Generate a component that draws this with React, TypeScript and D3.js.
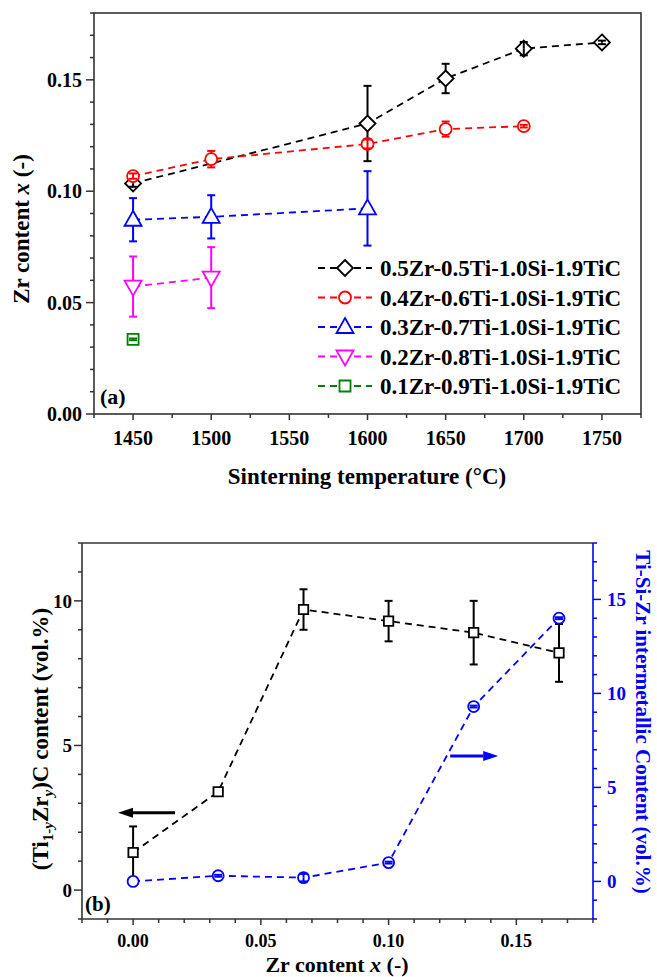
import React from 'react';
import * as d3 from 'd3';

const W = 657;
const H = 977;
const FONT = '"Liberation Serif", "Times New Roman", serif';

// ---- panel (a): Zr content vs sintering temperature ----
const tempTicks = [1450, 1500, 1550, 1600, 1650, 1700, 1750];
const zrTicksA = [0, 0.05, 0.1, 0.15];

const zr05Temp = [1450, 1600, 1650, 1700, 1750];
const zr05Val = [0.1035, 0.1304, 0.1506, 0.164, 0.1668];
const zr05Err = [0.0015, 0.0169, 0.0066, 0.003, 0.0008];

const zr04Temp = [1450, 1500, 1600, 1650, 1700];
const zr04Val = [0.1068, 0.1144, 0.1212, 0.1279, 0.1292];
const zr04Err = [0.0012, 0.0037, 0.002, 0.0034, 0.0006];

const zr03Temp = [1450, 1500, 1600];
const zr03Val = [0.0872, 0.0885, 0.0923];
const zr03Err = [0.0097, 0.0097, 0.0167];

const zr02Temp = [1450, 1500];
const zr02Val = [0.0572, 0.0612];
const zr02Err = [0.0135, 0.0137];

const zr01Temp = [1450];
const zr01Val = [0.0335];
const zr01Err = [0.0004];

const legendNames = [
  '0.5Zr-0.5Ti-1.0Si-1.9TiC',
  '0.4Zr-0.6Ti-1.0Si-1.9TiC',
  '0.3Zr-0.7Ti-1.0Si-1.9TiC',
  '0.2Zr-0.8Ti-1.0Si-1.9TiC',
  '0.1Zr-0.9Ti-1.0Si-1.9TiC',
];

// ---- panel (b): phase content vs Zr content ----
const zrX = [0, 0.0333, 0.0667, 0.1, 0.1333, 0.1667];
const zrTicksB = [0, 0.05, 0.1, 0.15];
const carbideVal = [1.3, 3.4, 9.7, 9.3, 8.9, 8.2];
const carbideErr = [0.9, 0, 0.7, 0.7, 1.1, 1.0];
const interVal = [0, 0.3, 0.2, 1.0, 9.3, 14.0];
const interErr = [0, 0.05, 0.2, 0.05, 0.05, 0.05];
const leftTicksB = [0, 5, 10];
const rightTicksB = [0, 5, 10, 15];

type Shape = 'diamond' | 'circle' | 'triUp' | 'triDown' | 'square' | 'smallSquare' | 'smallCircle';

const seriesA = [
  { t: zr05Temp, v: zr05Val, e: zr05Err, color: '#000000', shape: 'diamond' as Shape },
  { t: zr04Temp, v: zr04Val, e: zr04Err, color: '#ff0000', shape: 'circle' as Shape },
  { t: zr03Temp, v: zr03Val, e: zr03Err, color: '#0000ff', shape: 'triUp' as Shape },
  { t: zr02Temp, v: zr02Val, e: zr02Err, color: '#ff00ff', shape: 'triDown' as Shape },
  { t: zr01Temp, v: zr01Val, e: zr01Err, color: '#008000', shape: 'square' as Shape },
];

const circ = (r: number) => `M${-r},0A${r},${r} 0 1,0 ${r},0A${r},${r} 0 1,0 ${-r},0Z`;

const shapes: Record<Shape, { d: string; gt: number; gb: number }> = {
  diamond: { d: 'M0,-8L8,0L0,8L-8,0Z', gt: 8, gb: 8 },
  circle: { d: circ(6), gt: 6, gb: 6 },
  triUp: { d: 'M0,-9L8.5,6L-8.5,6Z', gt: 9, gb: 6 },
  triDown: { d: 'M0,9L8.5,-6L-8.5,-6Z', gt: 6, gb: 9 },
  square: { d: 'M-5.5,-5.5H5.5V5.5H-5.5Z', gt: 5.5, gb: 5.5 },
  smallSquare: { d: 'M-4.7,-4.7H4.7V4.7H-4.7Z', gt: 4.7, gb: 4.7 },
  smallCircle: { d: circ(5.5), gt: 5.5, gb: 5.5 },
};

const Marker = ({ x, y, shape, color }: { x: number; y: number; shape: Shape; color: string }) => (
  <path d={shapes[shape].d} transform={`translate(${x},${y})`} fill="#fff" stroke={color} strokeWidth={1.8} />
);

const ErrBar = ({ x, y, yt, yb, shape, color }: any) => {
  const { gt, gb } = shapes[shape];
  if (yb - yt < 0.5) return null;
  const topEnd = y - yt > gt ? y - gt : y;
  const botEnd = yb - y > gb ? y + gb : y;
  return (
    <g stroke={color} strokeWidth={2} fill="none">
      <line x1={x} x2={x} y1={yt} y2={topEnd} />
      <line x1={x} x2={x} y1={botEnd} y2={yb} />
      <line x1={x - 4} x2={x + 4} y1={yt} y2={yt} />
      <line x1={x - 4} x2={x + 4} y1={yb} y2={yb} />
    </g>
  );
};

// scales
const xA = d3.scaleLinear().domain([1425, 1775]).range([94, 641]);
const yA = d3.scaleLinear().domain([0, 0.18]).range([414, 13]);

const xB = d3.scaleLinear().domain([-0.02, 0.18]).range([82, 593]);
const yL = d3.scaleLinear().domain([-1, 12]).range([919, 543]);
const yR = d3.scaleLinear().domain([-2, 18]).range([919, 543]);

const DASH = '7,5';

const PanelA = () => {
  const line = d3.line<[number, number]>().x(d => xA(d[0])).y(d => yA(d[1]));
  const xMinor = d3.range(1425, 1776, 25);
  const yMinor = d3.range(0, 0.1801, 0.01);
  const [L, R] = xA.range();
  const [B, T] = yA.range();
  return (
    <g>
      {/* frame */}
      <rect x={L} y={T} width={R - L} height={B - T} fill="none" stroke="#333" strokeWidth={1.6} />
      {/* x ticks */}
      {xMinor.map(v => (
        <line key={'xm' + v} x1={xA(v)} x2={xA(v)} y1={B} y2={B + (tempTicks.includes(v) ? 6 : 4)} stroke="#333" strokeWidth={1.5} />
      ))}
      {tempTicks.map(v => (
        <text key={'xl' + v} x={xA(v)} y={445} textAnchor="middle" fontSize={20} fontWeight="bold" fontFamily={FONT}>{v}</text>
      ))}
      {/* y ticks */}
      {yMinor.map((v, i) => (
        <line key={'ym' + i} x1={L} x2={L - (i % 5 === 0 ? 8 : 4)} y1={yA(v)} y2={yA(v)} stroke="#333" strokeWidth={1.5} />
      ))}
      {zrTicksA.map(v => (
        <text key={'yl' + v} x={82} y={yA(v) + 7} textAnchor="end" fontSize={20} fontWeight="bold" fontFamily={FONT}>{v.toFixed(2)}</text>
      ))}
      {/* axis titles */}
      <text x={367} y={484} textAnchor="middle" fontSize={23} fontWeight="bold" fontFamily={FONT}>
        Sinterning temperature (°C)
      </text>
      <text transform="translate(29,229) rotate(-90)" textAnchor="middle" fontSize={23} fontWeight="bold" fontFamily={FONT}>
        Zr content <tspan fontStyle="italic">x</tspan> (-)
      </text>
      <text x={100} y={404} fontSize={22} fontWeight="bold" fontFamily={FONT}>(a)</text>

      {/* series */}
      {seriesA.map((s, si) => {
        const pts = s.t.map((t, i) => [t, s.v[i]] as [number, number]);
        return (
          <g key={'s' + si}>
            {pts.length > 1 && (
              <path d={line(pts) || ''} fill="none" stroke={s.color} strokeWidth={1.8} strokeDasharray={DASH} />
            )}
            {pts.map((p, i) => (
              <g key={i}>
                <Marker x={xA(p[0])} y={yA(p[1])} shape={s.shape} color={s.color} />
                <ErrBar x={xA(p[0])} y={yA(p[1])} yt={yA(p[1] + s.e[i])} yb={yA(p[1] - s.e[i])} shape={s.shape} color={s.color} />
              </g>
            ))}
          </g>
        );
      })}

      {/* legend */}
      {seriesA.map((s, i) => {
        const ly = 268 + i * 29.5;
        return (
          <g key={'lg' + i}>
            <line x1={318} x2={372} y1={ly} y2={ly} stroke={s.color} strokeWidth={1.8} strokeDasharray={DASH} />
            <Marker x={345} y={ly} shape={s.shape} color={s.color} />
            <text x={380} y={ly + 8} fontSize={23} fontWeight="bold" fontFamily={FONT}>{legendNames[i]}</text>
          </g>
        );
      })}
    </g>
  );
};

const Arrow = ({ x1, x2, y, color }: { x1: number; x2: number; y: number; color: string }) => {
  const dir = Math.sign(x2 - x1);
  const head = 15;
  return (
    <g>
      <line x1={x1} x2={x2 - dir * head} y1={y} y2={y} stroke={color} strokeWidth={3} />
      <path d={`M${x2},${y}L${x2 - dir * head},${y - 5}L${x2 - dir * head},${y + 5}Z`} fill={color} />
    </g>
  );
};

const PanelB = () => {
  const line = d3.line<[number, number]>().x(d => d[0]).y(d => d[1]);
  const [L, R] = xB.range();
  const [B, T] = yL.range();
  const xMinor = d3.range(-0.02, 0.1801, 0.01);
  const lMinor = d3.range(-1, 12.01, 1);
  const rMinor = d3.range(-2, 18.01, 1);
  const blue = '#0000ff';
  const carbPts = zrX.map((x, i) => [xB(x), yL(carbideVal[i])] as [number, number]);
  const interPts = zrX.map((x, i) => [xB(x), yR(interVal[i])] as [number, number]);
  return (
    <g>
      {/* frame */}
      <line x1={L} x2={R} y1={T} y2={T} stroke="#333" strokeWidth={1.6} />
      <line x1={L} x2={R} y1={B} y2={B} stroke="#333" strokeWidth={1.6} />
      <line x1={L} x2={L} y1={T} y2={B} stroke="#333" strokeWidth={1.6} />
      <line x1={R} x2={R} y1={T} y2={B} stroke={blue} strokeWidth={1.6} />
      {/* x ticks */}
      {xMinor.map((v, i) => (
        <line key={'xm' + i} x1={xB(v)} x2={xB(v)} y1={B} y2={B + ((i - 2) % 5 === 0 ? 6 : 4)} stroke="#333" strokeWidth={1.5} />
      ))}
      {zrTicksB.map(v => (
        <text key={'xl' + v} x={xB(v)} y={947} textAnchor="middle" fontSize={18} fontWeight="bold" fontFamily={FONT}>{v.toFixed(2)}</text>
      ))}
      {/* left ticks */}
      {lMinor.map(v => (
        <line key={'lm' + v} x1={L} x2={L - (leftTicksB.includes(v) ? 8 : 4)} y1={yL(v)} y2={yL(v)} stroke="#333" strokeWidth={1.5} />
      ))}
      {leftTicksB.map(v => (
        <text key={'ll' + v} x={72} y={yL(v) + 7} textAnchor="end" fontSize={19} fontWeight="bold" fontFamily={FONT}>{v}</text>
      ))}
      {/* right ticks */}
      {rMinor.map(v => (
        <line key={'rm' + v} x1={R} x2={R + (rightTicksB.includes(v) ? 8 : 4)} y1={yR(v)} y2={yR(v)} stroke={blue} strokeWidth={1.5} />
      ))}
      {rightTicksB.map(v => (
        <text key={'rl' + v} x={607} y={yR(v) + 7} fontSize={19} fontWeight="bold" fontFamily={FONT} fill={blue}>{v}</text>
      ))}
      {/* titles */}
      <text x={337} y={972} textAnchor="middle" fontSize={22} fontWeight="bold" fontFamily={FONT}>
        Zr content <tspan fontStyle="italic">x</tspan> (-)
      </text>
      <text transform="translate(48,739) rotate(-90)" textAnchor="middle" fontSize={23} fontWeight="bold" fontFamily={FONT}>
        (Ti<tspan fontSize={15} dy={5}>1-<tspan fontStyle="italic">y</tspan></tspan>
        <tspan dy={-5}>Zr</tspan><tspan fontSize={15} fontStyle="italic" dy={5}>y</tspan>
        <tspan dy={-5}>)C content (vol.%)</tspan>
      </text>
      <text transform="translate(636,722) rotate(90)" textAnchor="middle" fontSize={21} fontWeight="bold" fontFamily={FONT} fill={blue}>
        Ti-Si-Zr intermetallic Content (vol.%)
      </text>
      <text x={85} y={911} fontSize={21} fontWeight="bold" fontFamily={FONT}>(b)</text>

      {/* carbide series (left axis) */}
      <path d={line(carbPts) || ''} fill="none" stroke="#000" strokeWidth={1.8} strokeDasharray={DASH} />
      {carbPts.map((p, i) => (
        <g key={'c' + i}>
          <Marker x={p[0]} y={p[1]} shape="smallSquare" color="#000" />
          <ErrBar x={p[0]} y={p[1]} yt={yL(carbideVal[i] + carbideErr[i])} yb={yL(carbideVal[i] - carbideErr[i])} shape="smallSquare" color="#000" />
        </g>
      ))}
      {/* intermetallic series (right axis) */}
      <path d={line(interPts) || ''} fill="none" stroke={blue} strokeWidth={1.8} strokeDasharray={DASH} />
      {interPts.map((p, i) => (
        <g key={'b' + i}>
          <Marker x={p[0]} y={p[1]} shape="smallCircle" color={blue} />
          <ErrBar x={p[0]} y={p[1]} yt={yR(interVal[i] + interErr[i])} yb={yR(interVal[i] - interErr[i])} shape="smallCircle" color={blue} />
        </g>
      ))}
      {/* axis arrows */}
      <Arrow x1={xB(0.0164)} x2={xB(-0.0059)} y={yL(2.67)} color="#000" />
      <Arrow x1={xB(0.1241)} x2={xB(0.1429)} y={yR(6.67)} color={blue} />
    </g>
  );
};

const App = () => (
  <svg width={W} height={H} style={{ display: 'block', position: 'absolute', left: 0, top: 0, background: '#fff' }}>
    <rect width={W} height={H} fill="#fff" />
    <PanelA />
    <PanelB />
  </svg>
);

export default App;
